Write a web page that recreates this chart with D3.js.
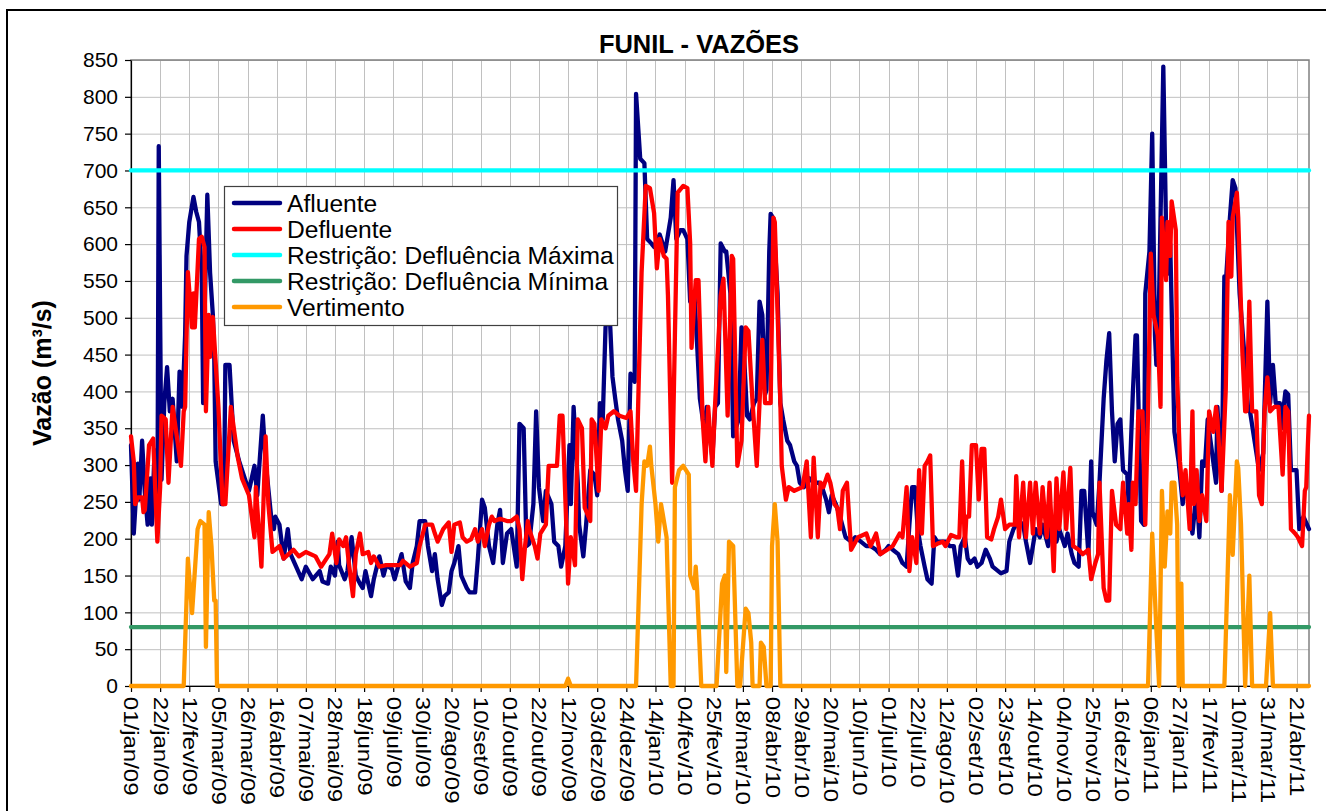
<!DOCTYPE html>
<html>
<head>
<meta charset="utf-8">
<script src="https://cdn.jsdelivr.net/npm/d3@7"></script>
<style>
    body { margin: 0; background: #fff; }
    svg { display: block; font-family: "Liberation Sans", Arial, sans-serif; }
</style>
</head>
<body>
<svg id="chart" width="1326" height="811"></svg>
<script>
"use strict";

// Data: [day since 01/jan/09, m3/s]
const startDate = new Date(Date.UTC(2009, 0, 1));
const lastDay = 849;
const tickStep = 21;

const tickLabels = ['01/jan/09', '22/jan/09', '12/fev/09', '05/mar/09', '26/mar/09', '16/abr/09', '07/mai/09',
    '28/mai/09', '18/jun/09', '09/jul/09', '30/jul/09', '20/ago/09', '10/set/09', '01/out/09', '22/out/09',
    '12/nov/09', '03/dez/09', '24/dez/09', '14/jan/10', '04/fev/10', '25/fev/10', '18/mar/10', '08/abr/10',
    '29/abr/10', '20/mai/10', '10/jun/10', '01/jul/10', '22/jul/10', '12/ago/10', '02/set/10', '23/set/10',
    '14/out/10', '04/nov/10', '25/nov/10', '16/dez/10', '06/jan/11', '27/jan/11', '17/fev/11', '10/mar/11',
    '31/mar/11', '21/abr/11'];

const yTicks = [0, 50, 100, 150, 200, 250, 300, 350, 400, 450, 500, 550, 600, 650, 700, 750, 800, 850];

const defMaxima = 700;
const defMinima = 80;

const afluente = [[0,327],[2,207],[5,302],[6,253],[8,333],[10,262],[12,219],[14,282],[15,219],[17,320],[19,210],[20,733],
    [21,500],[22,280],[24,384],[26,433],[28,373],[30,390],[33,305],[35,427],[37,379],[39,476],[40,584],[42,630],[45,664],
    [47,644],[49,630],[51,561],[52,384],[53,500],[55,667],[57,561],[59,504],[60,447],[61,305],[65,247],[67,247],[68,436],
    [71,436],[74,333],[78,305],[82,282],[85,265],[89,299],[91,259],[95,367],[97,305],[101,230],[103,213],[104,230],
    [107,219],[110,173],[113,213],[115,179],[119,162],[123,145],[126,162],[131,145],[136,156],[138,142],[142,139],
    [144,162],[147,150],[149,196],[150,164],[154,145],[156,156],[159,202],[162,150],[165,139],[167,133],[169,156],
    [173,122],[175,145],[179,176],[182,150],[184,164],[188,159],[190,145],[195,179],[198,142],[201,133],[203,167],
    [206,190],[208,224],[212,224],[214,190],[217,156],[219,179],[221,145],[224,110],[226,122],[229,127],[231,156],
    [233,167],[236,190],[238,150],[242,133],[244,127],[248,127],[250,173],[253,253],[255,242],[258,190],[261,167],
    [264,219],[266,239],[268,167],[271,207],[274,213],[278,162],[280,356],[283,350],[285,190],[287,193],[290,247],
    [292,373],[294,270],[297,224],[299,265],[303,247],[305,196],[308,190],[310,162],[313,190],[316,327],[317,247],
    [319,379],[322,276],[323,219],[326,176],[328,219],[331,293],[334,287],[336,259],[338,384],[340,362],[342,487],
    [343,500],[345,505],[347,420],[349,390],[351,362],[354,333],[356,293],[358,265],[360,424],[363,413],[364,804],
    [367,716],[370,710],[372,607],[375,601],[377,596],[381,613],[385,590],[389,636],[391,687],[393,607],[396,619],
    [398,619],[401,607],[403,522],[406,533],[408,464],[410,390],[413,350],[415,379],[419,310],[421,379],[423,384],
    [425,601],[428,590],[429,590],[432,533],[434,339],[438,362],[440,487],[441,482],[444,367],[446,362],[449,384],
    [451,390],[453,522],[455,504],[457,396],[458,402],[460,590],[461,641],[463,635],[466,533],[468,384],[470,362],
    [473,333],[475,327],[478,305],[480,299],[482,276],[485,270],[489,282],[492,276],[496,276],[498,270],[501,253],
    [503,236],[505,259],[508,247],[511,230],[515,202],[519,196],[522,202],[526,196],[530,190],[533,190],[537,185],
    [540,179],[544,185],[546,190],[549,185],[553,179],[556,167],[559,162],[561,219],[563,270],[565,270],[567,213],
    [569,190],[572,162],[574,145],[577,139],[579,202],[581,196],[585,196],[587,196],[590,190],[593,190],[596,150],
    [598,190],[601,202],[603,173],[605,167],[608,173],[610,162],[613,167],[616,185],[619,173],[621,162],[625,156],
    [627,153],[631,156],[633,196],[636,213],[638,219],[640,224],[643,219],[645,196],[648,167],[650,190],[652,213],
    [655,202],[657,219],[661,190],[663,219],[667,196],[669,213],[673,190],[675,207],[678,179],[680,167],[683,162],
    [685,265],[687,265],[690,179],[692,305],[693,236],[696,219],[698,276],[701,390],[703,442],[705,479],[707,373],
    [709,305],[711,356],[713,362],[715,293],[718,287],[719,247],[722,396],[724,476],[725,476],[728,224],[730,219],
    [731,533],[734,590],[736,750],[738,476],[739,436],[741,533],[744,841],[746,620],[748,560],[749,600],[752,345],
    [755,305],[758,247],[760,282],[765,207],[768,265],[770,202],[772,305],[774,299],[776,362],[778,333],[782,276],
    [783,379],[786,265],[788,556],[789,545],[792,636],[794,687],[796,676],[798,579],[799,533],[803,436],[805,379],
    [806,379],[813,293],[816,316],[819,522],[821,384],[823,436],[825,384],[828,384],[829,350],[832,400],[834,396],
    [836,293],[840,293],[842,213],[845,230],[849,213]];

const defluente = [[0,339],[2,305],[3,247],[5,256],[8,256],[9,236],[10,239],[13,327],[16,336],[19,196],[21,270],[22,367],
    [25,362],[27,276],[30,379],[36,299],[38,373],[39,379],[41,562],[44,487],[45,533],[46,487],[49,607],[51,610],[53,596],
    [54,373],[56,504],[57,447],[59,501],[63,379],[66,247],[68,247],[72,379],[77,310],[80,282],[85,259],[89,202],[90,270],
    [94,162],[97,339],[99,247],[102,182],[107,190],[110,173],[117,185],[121,176],[126,182],[133,176],[137,162],[143,179],
    [145,207],[148,167],[150,199],[153,190],[155,202],[157,167],[160,122],[162,179],[165,207],[167,179],[171,182],
    [173,167],[175,176],[179,162],[184,164],[189,164],[194,164],[196,170],[201,162],[206,167],[208,190],[212,219],
    [217,219],[219,207],[221,196],[225,213],[229,222],[231,182],[233,219],[237,222],[239,202],[242,196],[245,199],
    [248,213],[250,196],[253,213],[255,190],[258,219],[260,230],[262,224],[266,227],[271,224],[274,224],[278,230],
    [280,213],[282,145],[284,190],[286,224],[287,213],[291,190],[293,173],[295,207],[297,213],[299,219],[301,299],
    [303,299],[307,299],[309,367],[311,367],[314,202],[315,139],[317,202],[320,164],[322,362],[325,350],[327,242],
    [331,224],[332,362],[334,356],[337,265],[339,362],[342,350],[344,367],[348,373],[352,367],[357,364],[360,373],
    [362,305],[364,265],[366,419],[368,562],[371,679],[374,676],[377,642],[379,567],[381,607],[384,584],[386,580],
    [387,530],[390,276],[392,476],[394,670],[398,679],[401,676],[403,601],[404,459],[407,551],[409,551],[412,362],
    [414,305],[416,379],[419,299],[421,384],[425,530],[427,553],[430,367],[433,584],[434,580],[437,299],[440,333],
    [443,487],[445,482],[448,384],[451,299],[455,470],[457,384],[461,384],[463,636],[464,630],[468,384],[469,299],
    [472,253],[474,270],[478,265],[484,270],[487,305],[490,202],[492,310],[495,202],[497,276],[499,270],[502,287],
    [504,276],[507,247],[509,242],[511,213],[513,265],[516,276],[519,185],[524,202],[530,207],[533,190],[537,207],
    [540,179],[545,185],[549,190],[554,207],[556,202],[559,270],[561,156],[563,202],[566,167],[568,293],[570,207],
    [572,299],[574,305],[576,313],[578,190],[581,193],[585,196],[587,190],[591,205],[595,202],[597,202],[599,305],
    [601,190],[602,230],[604,230],[606,327],[609,327],[611,253],[613,322],[615,322],[617,202],[620,199],[622,213],
    [625,230],[627,253],[630,213],[633,219],[637,219],[638,285],[640,202],[643,276],[645,202],[648,276],[650,207],
    [652,276],[655,207],[657,270],[660,202],[662,276],[665,156],[667,282],[669,213],[672,290],[674,213],[677,296],
    [679,190],[683,185],[686,179],[690,185],[692,145],[695,167],[697,179],[698,276],[701,133],[703,116],[705,116],
    [707,265],[710,219],[713,213],[715,276],[718,207],[719,247],[721,185],[722,276],[724,247],[726,373],[729,373],
    [731,219],[733,373],[735,587],[737,504],[740,476],[742,379],[743,636],[746,551],[747,630],[749,584],[750,658],
    [753,619],[754,419],[756,305],[758,259],[760,293],[763,213],[765,373],[766,247],[768,293],[770,224],[772,259],
    [775,224],[777,373],[780,345],[782,379],[783,362],[786,265],[789,402],[791,630],[793,556],[794,636],[797,670],
    [798,636],[801,453],[803,373],[804,373],[806,522],[808,373],[811,373],[813,259],[815,247],[817,373],[819,419],
    [821,373],[824,379],[827,379],[830,287],[832,379],[834,373],[836,213],[839,207],[841,202],[844,190],[846,265],
    [847,270],[849,367]];

const vertimento = [[0,0],[38,0],[41,173],[44,99],[45,127],[48,213],[50,224],[53,219],[54,53],[56,236],[58,190],
    [60,116],[61,116],[62,0],[313,0],[315,10],[317,0],[364,0],[368,247],[370,305],[372,299],[374,325],[375,299],
    [378,247],[380,196],[382,247],[383,236],[386,202],[387,133],[389,0],[391,0],[392,270],[395,293],[398,299],
    [402,287],[403,150],[406,133],[407,162],[408,133],[411,0],[422,0],[426,139],[428,150],[429,19],[431,196],
    [434,190],[437,0],[439,0],[443,105],[445,99],[447,59],[448,0],[453,0],[454,59],[456,53],[458,0],[461,0],
    [462,190],[464,247],[466,196],[468,0],[733,0],[736,207],[739,76],[741,0],[743,265],[745,162],[747,237],
    [749,207],[750,276],[752,276],[754,219],[755,0],[757,139],[758,0],[788,0],[792,259],[794,178],[797,305],
    [798,296],[800,219],[803,0],[806,150],[808,0],[818,0],[821,99],[823,0],[849,0]];

const series = [
    { name: 'Afluente', color: '#000080', data: afluente },
    { name: 'Defluente', color: '#ff0000', data: defluente },
    { name: 'Restrição: Defluência Máxima', color: '#00ffff', data: [[0, defMaxima], [lastDay, defMaxima]] },
    { name: 'Restrição: Defluência Mínima', color: '#339966', data: [[0, defMinima], [lastDay, defMinima]] },
    { name: 'Vertimento', color: '#ff9900', data: vertimento }
];

const plot = { left: 131, right: 1309, top: 60, bottom: 686 };

const svg = d3.select('#chart');
const dayToDate = d => d3.utcDay.offset(startDate, d);

const x = d3.scaleUtc()
    .domain([startDate, dayToDate(lastDay)])
    .range([plot.left, plot.right]);
const y = d3.scaleLinear()
    .domain([0, 850])
    .range([plot.bottom, plot.top]);

const tickDates = tickLabels.map((t, i) => dayToDate(i * tickStep));

// outer frame of the chart object
svg.append('path')
    .attr('d', 'M7,815 V10 H1330')
    .attr('fill', 'none')
    .attr('stroke', '#000')
    .attr('stroke-width', 2);

// grid
let grid = svg.append('g').attr('stroke', '#c0c0c0').attr('stroke-width', 1);
grid.selectAll('.hgrid').data(yTicks).enter().append('line')
    .attr('x1', plot.left).attr('x2', plot.right)
    .attr('y1', d => y(d) + 0.5).attr('y2', d => y(d) + 0.5);
grid.selectAll('.vgrid').data(tickDates).enter().append('line')
    .attr('x1', d => Math.round(x(d)) + 0.5).attr('x2', d => Math.round(x(d)) + 0.5)
    .attr('y1', plot.top).attr('y2', plot.bottom);

svg.append('rect')
    .attr('x', plot.left).attr('y', plot.top)
    .attr('width', plot.right - plot.left).attr('height', plot.bottom - plot.top)
    .attr('fill', 'none')
    .attr('stroke', '#808080')
    .attr('stroke-width', 1.5);

// axes
let yAxis = svg.append('g')
    .attr('transform', `translate(${plot.left},0)`)
    .call(d3.axisLeft(y).tickValues(yTicks).tickSize(6).tickPadding(7).tickSizeOuter(0));
yAxis.selectAll('text')
    .attr('font-size', 21)
    .attr('font-family', '"Liberation Sans", Arial, sans-serif')
    .attr('fill', '#000');
yAxis.selectAll('line, path').attr('stroke', '#000').attr('stroke-width', 1.2);

let xAxis = svg.append('g')
    .attr('transform', `translate(0,${plot.bottom})`)
    .call(d3.axisBottom(x).tickValues(tickDates).tickSize(6).tickSizeOuter(0).tickFormat((d, i) => tickLabels[i]));
xAxis.selectAll('line, path').attr('stroke', '#000').attr('stroke-width', 1.2);
// labels read downwards, glyphs a little stretched along the text like the original
xAxis.selectAll('text')
    .attr('font-size', 20)
    .attr('font-family', '"Liberation Sans", Arial, sans-serif')
    .attr('fill', '#000')
    .attr('text-anchor', 'start')
    .attr('transform', 'rotate(90) scale(1.2,1)')
    .attr('x', 9)
    .attr('y', 0)
    .attr('dy', '0.35em');

// series lines
let line = d3.line()
    .x(d => x(dayToDate(d[0])))
    .y(d => y(d[1]));

svg.append('g').selectAll('path').data(series).enter().append('path')
    .attr('d', d => line(d.data))
    .attr('fill', 'none')
    .attr('stroke', d => d.color)
    .attr('stroke-width', 4.3)
    .attr('stroke-linejoin', 'round')
    .attr('stroke-linecap', 'round');

// title and y label
svg.append('text')
    .attr('x', 699).attr('y', 53)
    .attr('text-anchor', 'middle')
    .attr('font-size', 25.5)
    .attr('font-weight', 'bold')
    .text('FUNIL - VAZÕES');

svg.append('text')
    .attr('transform', 'translate(51,373) rotate(-90)')
    .attr('text-anchor', 'middle')
    .attr('font-size', 25)
    .attr('font-weight', 'bold')
    .text('Vazão (m³/s)');

// legend
let legend = svg.append('g').attr('transform', 'translate(224,186)');
legend.append('rect')
    .attr('x', 0.5).attr('y', 0.5)
    .attr('width', 393).attr('height', 139)
    .attr('fill', '#fff')
    .attr('stroke', '#404040')
    .attr('stroke-width', 1.2);
let items = legend.selectAll('.item').data(series).enter().append('g')
    .attr('transform', (d, i) => `translate(0,${17 + i * 26})`);
items.append('line')
    .attr('x1', 10).attr('x2', 56)
    .attr('stroke', d => d.color)
    .attr('stroke-width', 4.5)
    .attr('stroke-linecap', 'round');
items.append('text')
    .attr('x', 63)
    .attr('dy', '0.36em')
    .attr('font-size', 24.6)
    .text(d => d.name);
</script>
</body>
</html>
